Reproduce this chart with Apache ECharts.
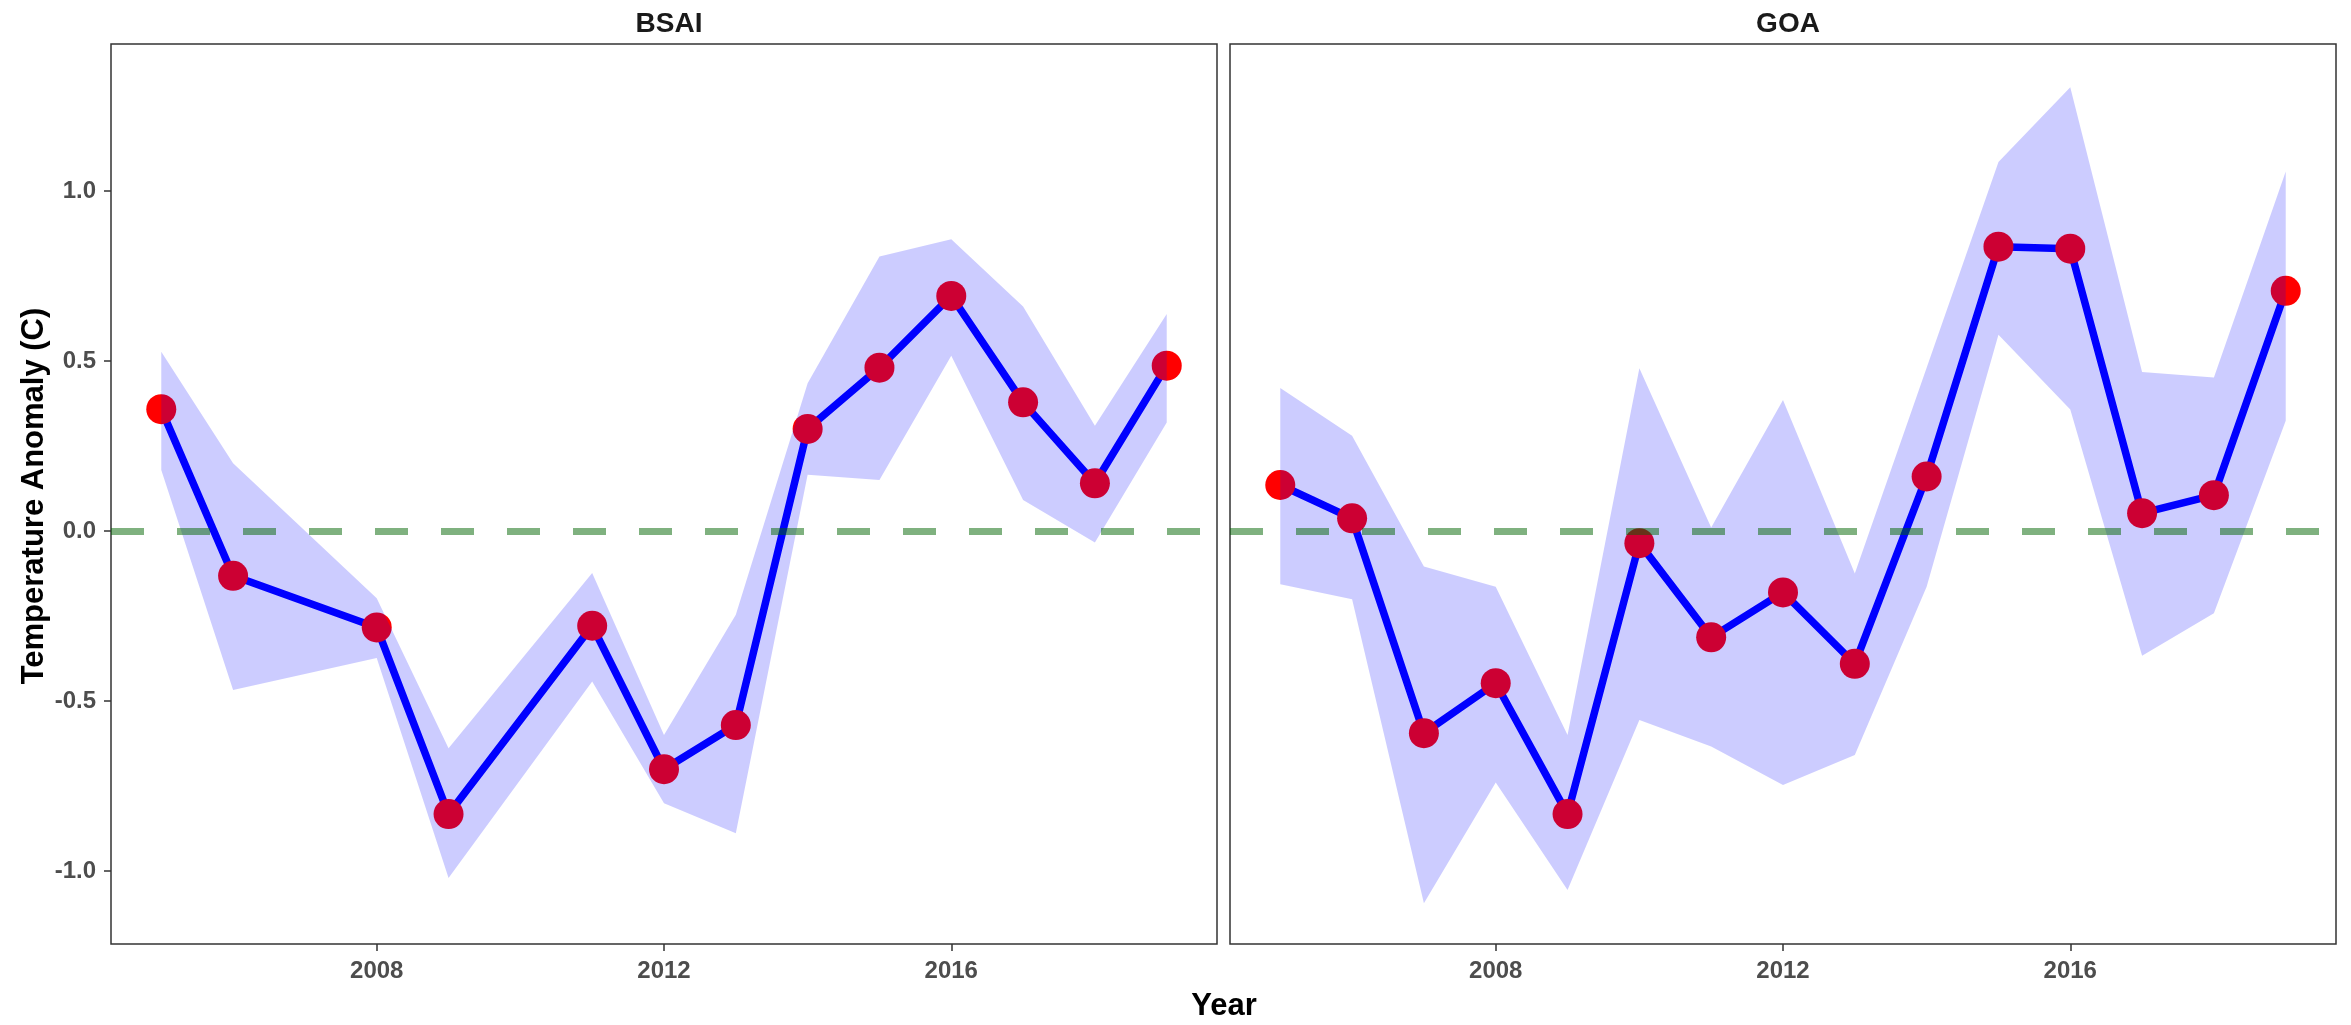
<!DOCTYPE html>
<html>
<head>
<meta charset="utf-8">
<script src="https://cdn.jsdelivr.net/npm/echarts@6/dist/echarts.min.js"></script>
<style>
html,body{margin:0;padding:0;background:#fff;}
#chart{width:2351px;height:1025px;}
</style>
</head>
<body>
<div id="chart"></div>
<script>
// ---- data ----
const panelNames = ['BSAI', 'GOA'];

const bsaiYears = [2005, 2006, 2008, 2009, 2011, 2012, 2013, 2014, 2015, 2016, 2017, 2018, 2019];
const bsaiValues = [0.358, -0.132, -0.284, -0.833, -0.279, -0.701, -0.571, 0.300, 0.480, 0.691, 0.378, 0.140, 0.486];
const bsaiUpper = [0.527, 0.199, -0.198, -0.639, -0.124, -0.600, -0.247, 0.434, 0.807, 0.858, 0.660, 0.309, 0.638];
const bsaiLower = [0.179, -0.468, -0.374, -1.021, -0.443, -0.801, -0.889, 0.165, 0.150, 0.515, 0.091, -0.034, 0.319];

const goaYears = [2005, 2006, 2007, 2008, 2009, 2010, 2011, 2012, 2013, 2014, 2015, 2016, 2017, 2018, 2019];
const goaValues = [0.135, 0.037, -0.595, -0.448, -0.833, -0.036, -0.313, -0.181, -0.391, 0.160, 0.836, 0.830, 0.052, 0.105, 0.706];
const goaUpper = [0.420, 0.280, -0.105, -0.164, -0.600, 0.478, 0.010, 0.385, -0.125, 0.480, 1.085, 1.305, 0.467, 0.451, 1.057];
const goaLower = [-0.157, -0.201, -1.095, -0.740, -1.056, -0.556, -0.634, -0.747, -0.659, -0.164, 0.577, 0.357, -0.367, -0.242, 0.324];

const xTickValues = [2008, 2012, 2016];
const yTickValues = [-1.0, -0.5, 0.0, 0.5, 1.0];
const refLineValue = 0;

const xTitle = 'Year';
const yTitle = 'Temperature Anomaly (C)';

// ---- build ----
const FONT = '"Liberation Sans", Arial, Helvetica, sans-serif';
const panels = [
  {years: bsaiYears, values: bsaiValues, upper: bsaiUpper, lower: bsaiLower},
  {years: goaYears, values: goaValues, upper: goaUpper, lower: goaLower}
];

const gridLefts = [111, 1230];
const gridWidth = 1106;
const grids = gridLefts.map(l => ({
  left: l, top: 44, width: gridWidth, height: 900,
  show: true, borderColor: '#333333', borderWidth: 1.5, backgroundColor: 'transparent', containLabel: false
}));

const xAxes = panels.map((p, i) => ({
  type: 'value', gridIndex: i, min: 2004.3, max: 2019.7, position: 'bottom',
  axisLine: {show: false, onZero: false},
  splitLine: {show: false},
  axisTick: {show: true, length: 7, lineStyle: {color: '#333333', width: 1.5}, customValues: xTickValues},
  axisLabel: {show: true, customValues: xTickValues, margin: 15, color: '#4D4D4D',
    fontSize: 24, fontWeight: 'bold', fontFamily: FONT, formatter: v => String(v)}
}));

const yAxes = panels.map((p, i) => ({
  type: 'value', gridIndex: i, min: -1.215, max: 1.432, position: 'left',
  axisLine: {show: false, onZero: false},
  splitLine: {show: false},
  axisTick: {show: i === 0, length: 7, lineStyle: {color: '#333333', width: 1.5}, customValues: yTickValues},
  axisLabel: {show: i === 0, customValues: yTickValues, margin: 15, color: '#4D4D4D',
    fontSize: 24, fontWeight: 'bold', fontFamily: FONT, formatter: v => v.toFixed(1)}
}));

function bandRenderer(p) {
  return function (params, api) {
    if (params.dataIndex !== 0) return null;
    const pts = [];
    for (let k = 0; k < p.years.length; k++) pts.push(api.coord([p.years[k], p.upper[k]]));
    for (let k = p.years.length - 1; k >= 0; k--) pts.push(api.coord([p.years[k], p.lower[k]]));
    return {
      type: 'polygon',
      shape: {points: pts},
      style: {fill: 'rgba(0,0,255,0.2)', stroke: 'none'}
    };
  };
}

const series = [];
panels.forEach((p, i) => {
  const pts = p.years.map((y, k) => [y, p.values[k]]);
  series.push({
    type: 'line', xAxisIndex: i, yAxisIndex: i, z: 1,
    data: pts, showSymbol: false, symbol: 'none',
    lineStyle: {color: '#0000FF', width: 7.5}, silent: true
  });
  series.push({
    type: 'scatter', xAxisIndex: i, yAxisIndex: i, z: 2,
    data: pts, symbol: 'circle', symbolSize: 30,
    itemStyle: {color: '#FF0000', opacity: 1}, silent: true
  });
  series.push({
    type: 'custom', xAxisIndex: i, yAxisIndex: i, z: 3,
    data: p.years.map((y, k) => [y, p.lower[k], p.upper[k]]),
    encode: {x: 0, y: [1, 2]},
    renderItem: bandRenderer(p), silent: true
  });
  series.push({
    type: 'line', xAxisIndex: i, yAxisIndex: i, z: 5, data: [],
    markLine: {
      silent: true, symbol: ['none', 'none'], animation: false,
      label: {show: false},
      lineStyle: {color: 'rgba(0,100,0,0.5)', width: 7, type: [33, 33]},
      data: [{yAxis: refLineValue}]
    }
  });
});

const option = {
  animation: false,
  backgroundColor: '#ffffff',
  title: panelNames.map((n, i) => ({
    text: n, left: gridLefts[i] + gridWidth / 2, top: 5, textAlign: 'center',
    textStyle: {fontSize: 28, fontWeight: 'bold', color: '#1A1A1A', fontFamily: FONT}
  })),
  grid: grids,
  xAxis: xAxes,
  yAxis: yAxes,
  series: series,
  graphic: [
    {type: 'text', x: 1224, y: 1006, silent: true,
      style: {text: xTitle, fontSize: 31, fontWeight: 'bold', fill: '#000000', fontFamily: FONT,
        textAlign: 'center', textVerticalAlign: 'middle'}},
    {type: 'text', x: 34, y: 496, rotation: Math.PI / 2, silent: true,
      style: {text: yTitle, fontSize: 31, fontWeight: 'bold', fill: '#000000', fontFamily: FONT,
        textAlign: 'center', textVerticalAlign: 'middle'}}
  ]
};

const chart = echarts.init(document.getElementById('chart'), null, {renderer: 'canvas'});
chart.setOption(option);
</script>
</body>
</html>
